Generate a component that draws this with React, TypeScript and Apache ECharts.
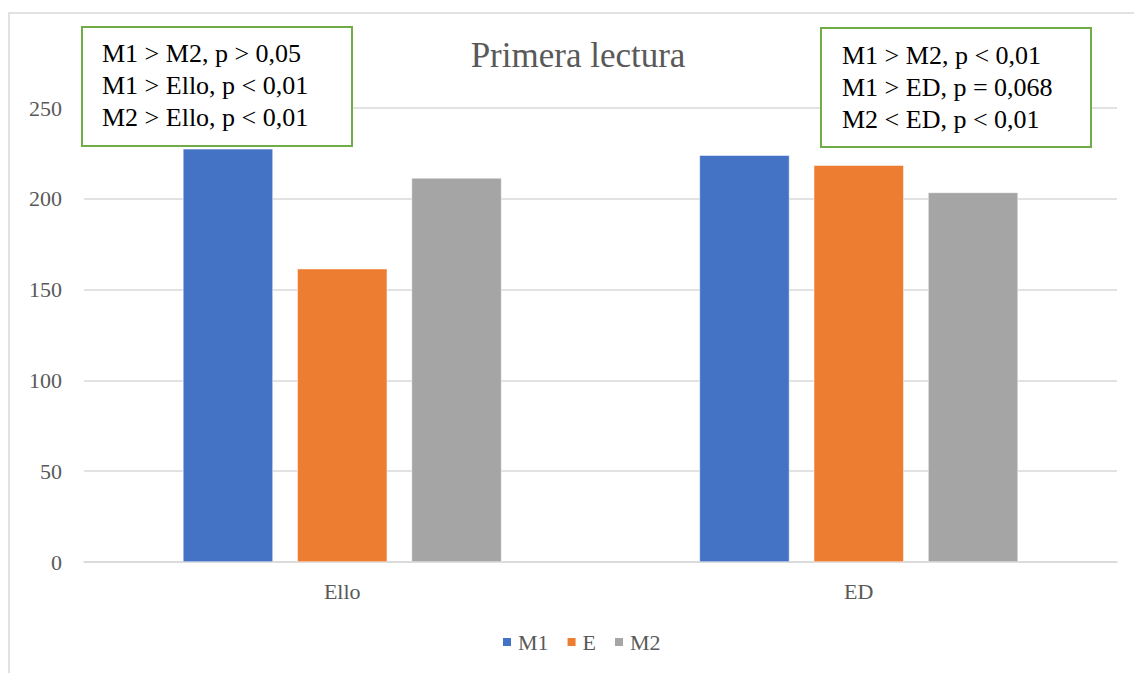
import React, { useEffect, useRef } from "react";
import * as echarts from "echarts";

const categories = ["Ello", "ED"];
const seriesNames = ["M1", "E", "M2"];
const seriesColors = ["#4472C4", "#ED7D31", "#A5A5A5"];
const m1Values = [227.5, 224];
const eValues = [161.5, 218.5];
const m2Values = [211.5, 203.5];
const yTicks = [0, 50, 100, 150, 200, 250];
const titleText = "Primera lectura";
const leftNotes = ["M1 > M2, p > 0,05", "M1 > Ello, p < 0,01", "M2 > Ello, p < 0,01"];
const rightNotes = ["M1 > M2, p < 0,01", "M1 > ED, p = 0,068", "M2 < ED, p < 0,01"];

const SERIF = "Liberation Serif";

function noteBox(x: number, y: number, w: number, h: number, lines: string[], tx: number, ty: number) {
  return {
    type: "group",
    z: 100,
    children: [
      {
        type: "rect",
        shape: { x, y, width: w, height: h },
        style: { fill: "#ffffff", stroke: "#70AD47", lineWidth: 2 },
        z: 100,
      },
      ...lines.map((t, i) => ({
        type: "text",
        x: tx,
        y: ty + i * 32,
        z: 101,
        style: {
          text: t,
          fill: "#000000",
          fontFamily: SERIF,
          fontSize: 26,
          textAlign: "left",
          textVerticalAlign: "middle",
        },
      })),
    ],
  };
}

export default function App() {
  const ref = useRef<HTMLDivElement>(null);
  useEffect(() => {
    if (!ref.current) return;
    const chart = echarts.init(ref.current, undefined, { renderer: "svg" });
    const data = [m1Values, eValues, m2Values];
    chart.setOption({
      animation: false,
      backgroundColor: "#ffffff",
      textStyle: { fontFamily: SERIF },
      grid: { left: 84, right: 17, top: 108, bottom: 111, containLabel: false },
      legend: {
        data: seriesNames,
        left: 501,
        top: 631,
        padding: 0,
        itemWidth: 10,
        itemHeight: 10,
        itemGap: 17,
        icon: "rect",
        textStyle: { fontFamily: SERIF, fontSize: 22, color: "#595959", padding: [0, 0, 0, 1] },
      },
      xAxis: {
        type: "category",
        data: categories,
        axisLine: { show: true, lineStyle: { color: "#D9D9D9", width: 1.5 } },
        axisTick: { show: false },
        axisLabel: { fontFamily: SERIF, fontSize: 22, color: "#595959", margin: 18 },
      },
      yAxis: {
        type: "value",
        min: yTicks[0],
        max: yTicks[yTicks.length - 1],
        interval: 50,
        axisLine: { show: false },
        axisTick: { show: false },
        splitLine: { lineStyle: { color: "#D9D9D9", width: 1.5 } },
        axisLabel: { fontFamily: SERIF, fontSize: 22, color: "#595959", margin: 22 },
      },
      series: seriesNames.map((name, i) => ({
        name,
        type: "bar",
        data: data[i],
        barWidth: 90,
        barGap: "27%",
        itemStyle: { color: seriesColors[i], borderColor: "#ffffff", borderWidth: 0.5 },
      })),
      graphic: [
        {
          type: "rect",
          z: 0,
          silent: true,
          shape: { x: 9, y: 13, width: 1200, height: 720 },
          style: { fill: "none", stroke: "#D9D9D9", lineWidth: 1.5 },
        },
        {
          type: "text",
          x: 578,
          y: 55,
          z: 50,
          style: {
            text: titleText,
            fontFamily: SERIF,
            fontSize: 35,
            fill: "#595959",
            textAlign: "center",
            textVerticalAlign: "middle",
          },
        },
        noteBox(82, 27, 270, 119, leftNotes, 102, 53),
        noteBox(821, 28, 270, 119, rightNotes, 842, 55),
      ],
    });
    return () => chart.dispose();
  }, []);
  return (
    <div
      ref={ref}
      style={{ position: "fixed", left: 0, top: 0, width: 1134, height: 673, background: "#fff" }}
    />
  );
}
